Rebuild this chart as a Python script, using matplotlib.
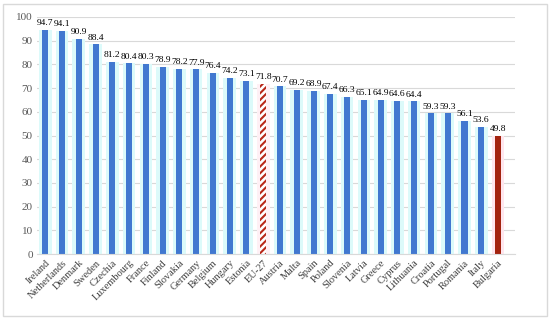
import matplotlib
matplotlib.use("Agg")
import matplotlib.pyplot as plt
from matplotlib.patches import Rectangle

countries = ["Ireland", "Netherlands", "Denmark", "Sweden", "Czechia", "Luxembourg",
             "France", "Finland", "Slovakia", "Germany", "Belgium", "Hungary", "Estonia",
             "EU-27", "Austria", "Malta", "Spain", "Poland", "Slovenia", "Latvia", "Greece",
             "Cyprus", "Lithuania", "Croatia", "Portugal", "Romania", "Italy", "Bulgaria"]
values = [94.7, 94.1, 90.9, 88.4, 81.2, 80.4, 80.3, 78.9, 78.2, 77.9, 76.4, 74.2, 73.1,
          71.8, 70.7, 69.2, 68.9, 67.4, 66.3, 65.1, 64.9, 64.6, 64.4, 59.3, 59.3, 56.1,
          53.6, 49.8]
yticks = list(range(0, 101, 10))

plt.rcParams['font.family'] = ['Liberation Serif', 'DejaVu Serif']
plt.rcParams['hatch.color'] = '#b8281a'
plt.rcParams['hatch.linewidth'] = 1.5

fig = plt.figure(figsize=(5.5, 3.2), dpi=100)
ax = fig.add_axes([0.067, 0.206, 0.869, 0.741])

x = list(range(len(countries)))
blue = '#4178d0'
for i, (c, v) in enumerate(zip(countries, values)):
    if c == "EU-27":
        ax.bar(i, v, width=0.75, color='#fff0f5', zorder=1)
        ax.bar(i, v, width=0.36, color='white', edgecolor='#b8281a', hatch='/////',
               linewidth=0, zorder=2)
    elif c == "Bulgaria":
        ax.bar(i, v, width=0.75, color='#ffe6ee', zorder=1)
        ax.bar(i, v, width=0.36, color='#a3230f', zorder=2)
    else:
        ax.bar(i, v, width=0.75, color='#dcfafa', zorder=1)
        ax.bar(i, v, width=0.36, color=blue, zorder=2)
    ax.text(i, v + 1.2, f"{v:.1f}", ha='center', va='bottom', fontsize=6.8, color='black')

ax.set_ylim(0, 100)
ax.set_xlim(-0.5, 28.0)
ax.set_yticks(yticks)
ax.set_yticklabels([str(t) for t in yticks], fontsize=8, color='#595959')
ax.yaxis.grid(True, color='#d9d9d9', linewidth=0.8, zorder=0)
ax.set_axisbelow(True)
ax.set_xticks(x)
ax.set_xticklabels(countries, rotation=45, ha='right', rotation_mode='anchor',
                   fontsize=7.5, color='#404040')
ax.tick_params(axis='both', length=0, pad=3)
for s in ['top', 'right', 'left']:
    ax.spines[s].set_visible(False)
ax.spines['bottom'].set_color('#d9d9d9')

fig.patches.append(Rectangle((0.006, 0.012), 0.988, 0.976, transform=fig.transFigure,
                             fill=False, edgecolor='#d9d9d9', linewidth=1))

fig.savefig("out.png", dpi=100)
